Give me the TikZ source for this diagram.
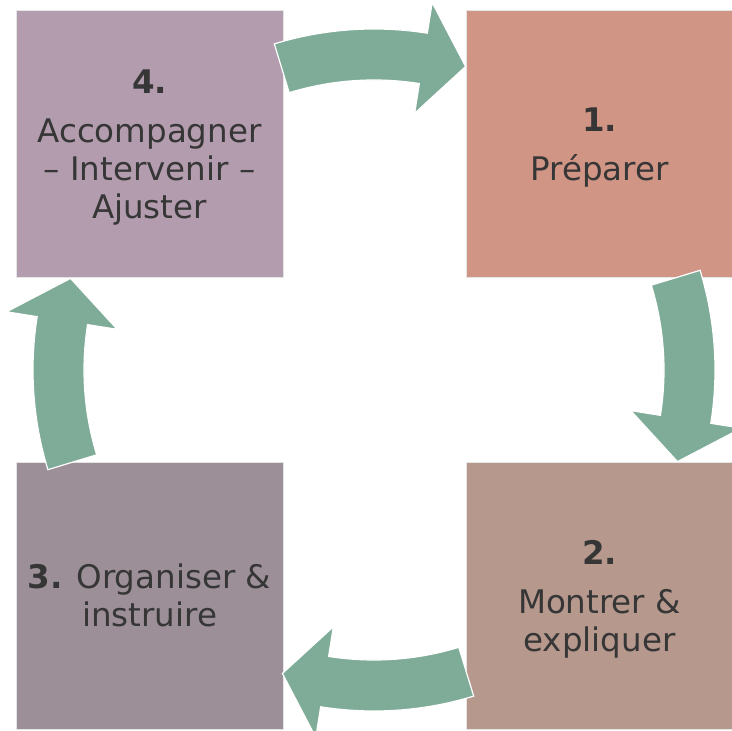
\documentclass[tikz,border=0pt]{standalone}
\usepackage{fontspec}
\setmainfont{DejaVu Sans}
\usetikzlibrary{positioning}

\definecolor{prepfill}{HTML}{D09585}
\definecolor{showfill}{HTML}{B6988D}
\definecolor{orgafill}{HTML}{9C8F98}
\definecolor{guidefill}{HTML}{B39CAE}
\definecolor{turnfill}{HTML}{7FAC98}
\definecolor{inktext}{HTML}{363636}

\begin{document}
\begin{tikzpicture}[x=1pt, y=1pt,
  stepbox/.style={rectangle, minimum width=267pt, minimum height=267pt, inner sep=0pt,
    draw=white!80!gray, line width=0.4pt, text=inktext, align=center, text depth=0pt,
    font=\fontsize{32.5}{38}\selectfont},
  cyclearrow/.pic={
    \filldraw[fill=turnfill, draw=white, line width=1.2pt, line join=miter]
      (17:290pt) arc[start angle=17, end angle=-9, radius=290pt]
      -- (-9:260pt) -- (-16.8:317pt) -- (-9:372pt) -- (-9:341pt)
      arc[start angle=-9, end angle=17, radius=341pt] -- cycle;
  }]
  \useasboundingbox (0,0) rectangle (732,731);
  \coordinate (c) at (374,361);

  \node[stepbox, fill=prepfill] (prep) at (599.5,587) {\textbf{1.}\\[11pt] Préparer};
  \node[stepbox, fill=showfill] (show) at (599.5,135.5) {\textbf{2.}\\[11pt] Montrer \&\\ expliquer};
  \node[stepbox, fill=orgafill] (orga) at (149.5,135.5) {\textbf{3.} Organiser \&\\ instruire};
  \node[stepbox, fill=guidefill] (guide) at (149.5,587) {\textbf{4.}\\[11pt] Accompagner\\ – Intervenir –\\ Ajuster};

  % arrows turning clockwise round the middle
  \pic[rotate=90] at (c) {cyclearrow};
  \pic[rotate=0] at (c) {cyclearrow};
  \pic[rotate=-90] at (c) {cyclearrow};
  \pic[rotate=180] at (c) {cyclearrow};
\end{tikzpicture}
\end{document}
